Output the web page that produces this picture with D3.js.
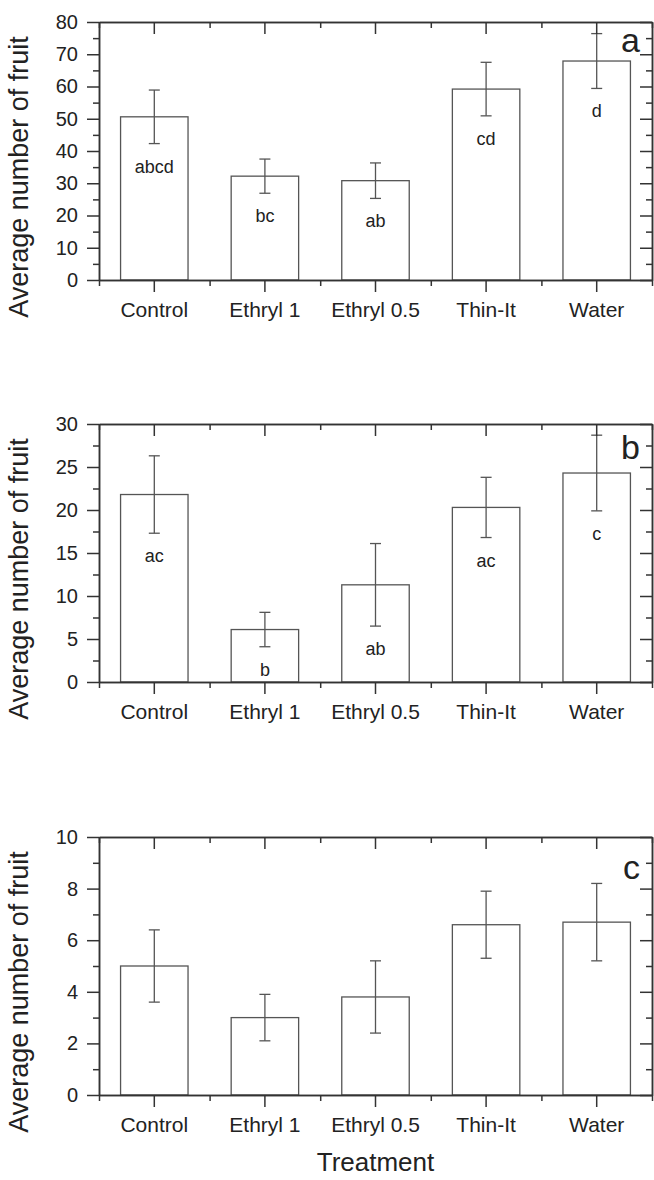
<!DOCTYPE html>
<html lang="en">
<head>
  <meta charset="UTF-8">
  <title>Average number of fruit by treatment</title>
  <style>
    body {
      margin: 0;
      background: #fff;
    }

    svg {
      display: block;
      font-family: "Liberation Sans", Arial, sans-serif;
    }

    .axis path,
    .axis line {
      stroke: #333;
      stroke-width: 1.5px;
    }

    .axis text {
      fill: #222;
      font-size: 20px;
    }

    .axis.cat text {
      font-size: 21px;
    }
  </style>
</head>
<body>
<div class="chart"></div>
</body>
<script src="https://d3js.org/d3.v7.min.js"></script>
<script>
  // data
  const categories = ['Control', 'Ethryl 1', 'Ethryl 0.5', 'Thin-It', 'Water']

  const meansA = [50.6, 32.2, 30.8, 59.2, 67.9]
  const errorsA = [8.3, 5.3, 5.5, 8.3, 8.5]
  const lettersA = ['abcd', 'bc', 'ab', 'cd', 'd']
  const ticksA = [0, 10, 20, 30, 40, 50, 60, 70, 80]

  const meansB = [21.8, 6.1, 11.3, 20.3, 24.3]
  const errorsB = [4.5, 2.0, 4.8, 3.5, 4.4]
  const lettersB = ['ac', 'b', 'ab', 'ac', 'c']
  const ticksB = [0, 5, 10, 15, 20, 25, 30]

  const meansC = [5.0, 3.0, 3.8, 6.6, 6.7]
  const errorsC = [1.4, 0.9, 1.4, 1.3, 1.5]
  const lettersC = []
  const ticksC = [0, 2, 4, 6, 8, 10]

  const width = 654
  const height = 1180
  const left = 99
  const right = 652
  const plotH = 258

  let svg = d3.select('.chart').append('svg')
    .attr('width', width)
    .attr('height', height)

  let x = d3.scaleBand()
    .domain(categories)
    .range([left, right])

  // band edges for the minor ticks
  let xEdge = d3.scaleLinear()
    .domain([0, categories.length])
    .range([left, right])

  function drawPanel(top, means, errors, letters, ticks, name, nameY) {
    let yMax = ticks[ticks.length - 1]
    let step = ticks[1] - ticks[0]
    let minor = d3.range(step / 2, yMax, step)
    let bottom = top + plotH

    let y = d3.scaleLinear()
      .domain([0, yMax])
      .range([bottom, top])

    let g = svg.append('g')

    // bars
    let barW = x.bandwidth() * 0.61
    g.selectAll('rect.bar')
      .data(means)
      .enter()
      .append('rect')
      .attr('class', 'bar')
      .attr('x', (d, i) => x(categories[i]) + (x.bandwidth() - barW) / 2)
      .attr('y', d => y(d))
      .attr('width', barW)
      .attr('height', d => bottom - y(d))
      .attr('fill', '#fff')
      .attr('stroke', '#555')
      .attr('stroke-width', 1.3)

    // error bars
    let cap = 5.5
    let eb = g.selectAll('g.err')
      .data(means)
      .enter()
      .append('g')
      .attr('class', 'err')
      .attr('stroke', '#555')
      .attr('stroke-width', 1.3)
    eb.append('line')
      .attr('x1', (d, i) => x(categories[i]) + x.bandwidth() / 2)
      .attr('x2', (d, i) => x(categories[i]) + x.bandwidth() / 2)
      .attr('y1', (d, i) => y(d + errors[i]))
      .attr('y2', (d, i) => y(d - errors[i]))
    eb.append('line')
      .attr('x1', (d, i) => x(categories[i]) + x.bandwidth() / 2 - cap)
      .attr('x2', (d, i) => x(categories[i]) + x.bandwidth() / 2 + cap)
      .attr('y1', (d, i) => y(d + errors[i]))
      .attr('y2', (d, i) => y(d + errors[i]))
    eb.append('line')
      .attr('x1', (d, i) => x(categories[i]) + x.bandwidth() / 2 - cap)
      .attr('x2', (d, i) => x(categories[i]) + x.bandwidth() / 2 + cap)
      .attr('y1', (d, i) => y(d - errors[i]))
      .attr('y2', (d, i) => y(d - errors[i]))

    // significance letters under the error bars
    g.selectAll('text.letter')
      .data(letters)
      .enter()
      .append('text')
      .attr('class', 'letter')
      .attr('x', (d, i) => x(categories[i]) + x.bandwidth() / 2)
      .attr('y', (d, i) => y(means[i] - errors[i]) + 29)
      .attr('text-anchor', 'middle')
      .attr('font-size', '18px')
      .attr('fill', '#222')
      .text(d => d)

    // left axis
    g.append('g')
      .attr('class', 'axis')
      .attr('transform', 'translate(' + left + ',0)')
      .call(d3.axisLeft(y).tickValues(ticks).tickSize(12).tickSizeOuter(0).tickPadding(9))
    g.append('g')
      .attr('class', 'axis')
      .attr('transform', 'translate(' + left + ',0)')
      .call(d3.axisLeft(y).tickValues(minor).tickSize(6).tickSizeOuter(0).tickFormat(''))

    // right axis, ticks inward
    g.append('g')
      .attr('class', 'axis')
      .attr('transform', 'translate(' + right + ',0)')
      .call(d3.axisRight(y).tickValues(ticks).tickSize(-12).tickSizeOuter(0).tickFormat(''))
    g.append('g')
      .attr('class', 'axis')
      .attr('transform', 'translate(' + right + ',0)')
      .call(d3.axisRight(y).tickValues(minor).tickSize(-6).tickSizeOuter(0).tickFormat(''))

    // bottom axis
    let xb = g.append('g')
      .attr('class', 'axis cat')
      .attr('transform', 'translate(0,' + bottom + ')')
      .call(d3.axisBottom(x).tickSize(12).tickSizeOuter(0))
    xb.selectAll('text')
      .attr('y', 37)
      .attr('dy', null)
    g.append('g')
      .attr('class', 'axis')
      .attr('transform', 'translate(0,' + bottom + ')')
      .call(d3.axisBottom(xEdge).ticks(categories.length).tickSize(6).tickSizeOuter(0).tickFormat(''))

    // top axis, ticks inward
    g.append('g')
      .attr('class', 'axis')
      .attr('transform', 'translate(0,' + top + ')')
      .call(d3.axisTop(x).tickSize(-12).tickSizeOuter(0).tickFormat(''))
    g.append('g')
      .attr('class', 'axis')
      .attr('transform', 'translate(0,' + top + ')')
      .call(d3.axisTop(xEdge).ticks(categories.length).tickSize(-6).tickSizeOuter(0).tickFormat(''))

    // y title
    g.append('text')
      .attr('transform', 'translate(28,' + (top + plotH / 2 + 26) + ') rotate(-90)')
      .attr('text-anchor', 'middle')
      .attr('font-size', '27px')
      .attr('fill', '#222')
      .text('Average number of fruit')

    // panel letter
    g.append('text')
      .attr('x', 640)
      .attr('y', top + nameY)
      .attr('text-anchor', 'end')
      .attr('font-size', '34px')
      .attr('fill', '#222')
      .text(name)
  }

  drawPanel(22, meansA, errorsA, lettersA, ticksA, 'a', 30)
  drawPanel(424, meansB, errorsB, lettersB, ticksB, 'b', 35)
  drawPanel(837, meansC, errorsC, lettersC, ticksC, 'c', 42)

  svg.append('text')
    .attr('x', (left + right) / 2)
    .attr('y', 1171)
    .attr('text-anchor', 'middle')
    .attr('font-size', '26px')
    .attr('fill', '#222')
    .text('Treatment')
</script>
</html>
